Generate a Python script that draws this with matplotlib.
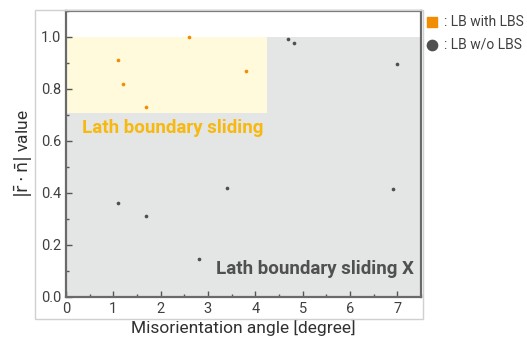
import matplotlib
matplotlib.use("Agg")
import matplotlib.pyplot as plt
from matplotlib.patches import Rectangle
from matplotlib.ticker import MultipleLocator

plt.rcParams['font.family'] = ['Roboto', 'DejaVu Sans']

# Data
lbs_x = [1.09, 1.20, 1.69, 2.60, 3.80]
lbs_y = [0.913, 0.820, 0.731, 0.999, 0.869]
nolbs_x = [4.69, 4.81, 7.00, 1.09, 1.69, 2.80, 3.40, 6.91]
nolbs_y = [0.992, 0.978, 0.896, 0.363, 0.310, 0.145, 0.419, 0.417]
label_lbs = ": LB with LBS"
label_nolbs = ": LB w/o LBS"

fig = plt.figure(figsize=(5.27, 3.42), dpi=100)
ax = fig.add_axes([0.1252, 0.1316, 0.6736, 0.8363])

# outer light frame
fig.patches.append(Rectangle((0.0664, 0.0673), 0.736, 0.9035, transform=fig.transFigure,
                             fill=False, edgecolor='#d0d0d0', linewidth=1.0, zorder=0))

ax.set_xlim(0, 7.5)
ax.set_ylim(0, 1.1)

# background regions
ax.add_patch(Rectangle((0, 0), 7.5, 1.0, facecolor='#e4e5e5', edgecolor='none', zorder=0))
ax.add_patch(Rectangle((0, 0.709), 4.25, 0.291, facecolor='#fffadc', edgecolor='none', zorder=0.5))

ax.scatter(lbs_x, lbs_y, s=7, marker='o', color='#f28c00', linewidths=0, zorder=3)
ax.scatter(nolbs_x, nolbs_y, s=7, marker='o', color='#4f4f4f', linewidths=0, zorder=3)

ax.text(0.34, 0.65, "Lath boundary sliding", color='#f7b90f', fontsize=13.5,
        fontweight='bold', ha='left', va='center')
ax.text(7.35, 0.108, "Lath boundary sliding X", color='#505050', fontsize=13.5,
        fontweight='bold', ha='right', va='center')

ax.set_xticks(range(0, 8))
ax.set_yticks([0.0, 0.2, 0.4, 0.6, 0.8, 1.0])
ax.set_yticklabels(['0.0', '0.2', '0.4', '0.6', '0.8', '1.0'])
ax.xaxis.set_minor_locator(MultipleLocator(0.5))
ax.yaxis.set_minor_locator(MultipleLocator(0.1))
ax.tick_params(which='both', direction='in', top=False, right=False, colors='#555555',
               labelcolor='#404040', labelsize=10.5)
ax.tick_params(which='major', length=4, width=1)
ax.tick_params(which='minor', length=2.5, width=1)
for s in ax.spines.values():
    s.set_color('#6a6a6a')
    s.set_linewidth(1.6)

ax.set_xlabel("Misorientation angle [degree]", fontsize=12.5, color='#303030', labelpad=2)
ax.set_ylabel(r"$|\bar{\mathrm{r}}\cdot\bar{\mathrm{n}}|$ value", fontsize=12.5, color='#303030', labelpad=4)

# legend outside
h1 = ax.scatter([], [], s=55, marker='s', color='#f28c00')
h2 = ax.scatter([], [], s=55, marker='o', color='#4f4f4f')
fig.legend([h1, h2], [label_lbs, label_nolbs], loc='upper left',
           bbox_to_anchor=(0.787, 0.985), frameon=False, fontsize=10,
           handletextpad=0.3, handlelength=1.1, labelspacing=0.6, borderpad=0.2,
           labelcolor='#404040')

fig.savefig("out.png", dpi=100)
